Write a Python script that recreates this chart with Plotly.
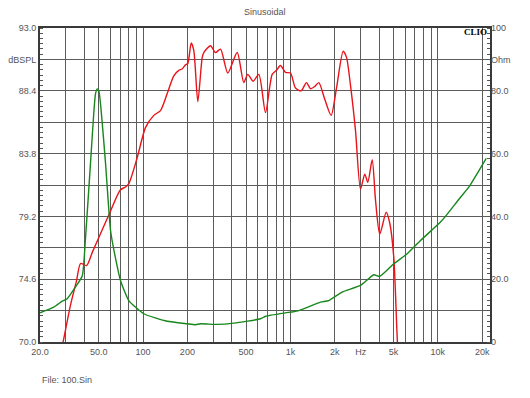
import plotly.graph_objects as go
import math

# SPL response (left axis, dBSPL)
spl_freq = [28.0, 28.7, 32.2, 35.4, 37.7, 41.4, 45.4, 52.8, 60.2, 70.3, 76.0, 80.1, 91.3, 103.9,
            118.3, 131.4, 145.9, 161.7, 174.9, 184.4, 194.1, 201.2, 212.3, 221.1, 235.4, 252.1,
            258.4, 286.9, 310.2, 335.4, 376.0, 435.4, 482.6, 513.8, 559.1, 610.3, 677.6, 752.2,
            804, 856, 925.8, 1001, 1083, 1183, 1285, 1368, 1457, 1558, 1702, 1890, 2054, 2280,
            2402, 2556, 2764, 2989, 3196, 3350, 3588, 3778, 4040, 4464, 4722, 5027, 5300, 5420]
spl_db = [69.5, 70.0, 72.7, 74.5, 75.75, 75.6, 76.6, 78.2, 79.6, 81.15, 81.35, 81.6, 83.5, 85.7,
          86.6, 86.95, 88.2, 89.5, 89.9, 90.0, 90.3, 90.4, 91.9, 91.35, 87.6, 90.85,
          91.2, 91.7, 91.2, 91.45, 89.7, 91.2, 89.0, 89.6, 89.1, 89.6, 86.8, 89.6,
          89.9, 90.25, 89.75, 89.7, 88.6, 88.4, 89.0, 88.55, 88.7, 89.0, 87.85, 86.6, 88.6, 91.3,
          90.85, 88.8, 85.5, 81.2, 82.3, 81.7, 83.35, 80.4, 77.9, 79.5, 78.7, 76.2, 70.35, 68.5]

# Impedance (right axis, Ohm)
imp_freq = [20.0, 24.8, 28.3, 30.6, 34.8, 38.7, 40.7, 44.0, 46.3, 47.6, 48.9, 50.1, 52.0, 55.7,
            60.2, 65.1, 70.3, 80.1, 101.2, 145.9, 199.4, 227, 245.4, 318.6, 412.8, 626.6, 677.6,
            1001, 1140, 1600, 1821, 2244, 2989, 3678, 4040, 5027, 6197, 7629, 10426, 11272, 14256,
            16220, 21300]
imp_ohm = [9.3, 11.1, 13.0, 13.8, 17.5, 21.0, 33.0, 56.8, 72.7, 79.0, 80.6, 80.1, 73.7, 56.8,
           35.5, 26.6, 19.6, 13.2, 9.0, 6.6, 5.8, 5.5, 5.8, 5.6, 6.0, 7.4, 8.2,
           9.5, 10.0, 12.7, 13.2, 15.9, 18.0, 21.4, 20.9, 24.9, 28.1, 32.3, 38.2, 40.0, 46.1,
           49.3, 58.5]

# Axis ticks
x_grid = [20, 30, 40, 50, 60, 70, 80, 90, 100, 200, 300, 400, 500, 600, 700, 800, 900,
          1000, 2000, 3000, 4000, 5000, 6000, 7000, 8000, 9000, 10000, 20000]
x_labels = ["20.0", "", "", "50.0", "", "", "", "", "100", "200", "", "", "500", "", "", "", "",
            "1k", "2k", "Hz", "", "5k", "", "", "", "", "10k", "20k"]
y_left_vals = [70.0, 72.3, 74.6, 76.9, 79.2, 81.5, 83.8, 86.1, 88.4, 90.7, 93.0]
y_left_text = ["70.0", "", "74.6", "", "79.2", "", "83.8", "", "88.4", "dBSPL", "93.0"]
y_right_vals = [0, 10, 20, 30, 40, 50, 60, 70, 80, 90, 100]
y_right_text = ["0", "", "20.0", "", "40.0", "", "60.0", "", "80.0", "Ohm", "100"]

fig = go.Figure()
fig.add_trace(go.Scatter(x=spl_freq, y=spl_db, mode="lines",
                         line=dict(color="#e8141a", width=1.4, shape="spline", smoothing=0.7),
                         showlegend=False))
fig.add_trace(go.Scatter(x=imp_freq, y=imp_ohm, mode="lines", yaxis="y2",
                         line=dict(color="#17871b", width=1.4, shape="spline", smoothing=0.5),
                         showlegend=False))

font_tick = dict(family="Liberation Sans, Arial, sans-serif", size=9, color="#555555")

fig.update_layout(
    width=530, height=398,
    margin=dict(l=40, r=40, t=28, b=56, pad=0),
    paper_bgcolor="white", plot_bgcolor="white",
    xaxis=dict(type="log", range=[math.log10(20), math.log10(22600)],
               tickmode="array", tickvals=x_grid, ticktext=x_labels,
               showgrid=True, gridcolor="#5c5c5c", gridwidth=1,
               showline=True, linecolor="#3a3a3a", linewidth=2, mirror=True,
               ticks="", tickfont=font_tick, zeroline=False, automargin=False),
    yaxis=dict(range=[70, 93], tickmode="array", tickvals=y_left_vals, ticktext=y_left_text,
               showgrid=True, gridcolor="#5c5c5c", gridwidth=1,
               showline=True, linecolor="#3a3a3a", linewidth=2, mirror=True,
               ticks="", tickfont=font_tick, zeroline=False, automargin=False,
               minor=dict(tickmode="linear", tick0=70, dtick=2.3 / 6, ticks="inside",
                          ticklen=3, tickcolor="#555555", showgrid=False)),
    yaxis2=dict(range=[0, 100], overlaying="y", side="right",
                tickmode="array", tickvals=y_right_vals, ticktext=y_right_text,
                showgrid=False, showline=False, ticks="", tickfont=font_tick, zeroline=False,
                automargin=False,
                minor=dict(tickmode="linear", tick0=0, dtick=10 / 6, ticks="inside",
                           ticklen=3, tickcolor="#555555", showgrid=False)),
    annotations=[
        dict(text="Sinusoidal", xref="paper", yref="paper", x=0.5, y=1.05,
             xanchor="center", yanchor="middle", showarrow=False,
             font=dict(family="Liberation Sans, Arial, sans-serif", size=9, color="#555555")),
        dict(text="File: 100.Sin", xref="paper", yref="paper", x=0.0, y=-0.12,
             xanchor="left", yanchor="middle", showarrow=False,
             font=dict(family="Liberation Sans, Arial, sans-serif", size=9, color="#555555")),
        dict(text="<b>CLIO</b>", xref="paper", yref="paper", x=0.998, y=0.987,
             xanchor="right", yanchor="middle", showarrow=False,
             font=dict(family="Liberation Serif, Times New Roman, serif", size=9, color="#000000")),
    ],
)

fig.write_html("out.html", config={"displayModeBar": False},
               post_script="document.body.style.margin='0px';")
